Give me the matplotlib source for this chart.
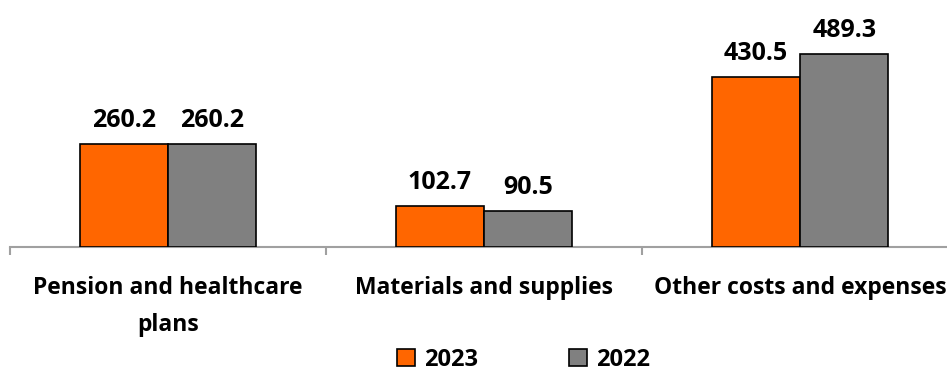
import matplotlib.pyplot as plt
import numpy as np

categories = ['Pension and healthcare\nplans', 'Materials and supplies', 'Other costs and expenses']
vals_2023 = [260.2, 102.7, 430.5]
vals_2022 = [260.2, 90.5, 489.3]
series_names = ['2023', '2022']

plt.rcParams['font.family'] = ['Open Sans', 'DejaVu Sans']
plt.rcParams['font.weight'] = 'bold'

fig = plt.figure(figsize=(9.47, 3.71), dpi=100)
W, H = 947, 371
# axes from x=10 to ~958 px, y from 0 to 247 px (baseline)
ax = fig.add_axes([10 / W, (H - 247) / H, 948 / W, 247 / H])

x = np.arange(len(categories))
w = 0.28
ax.bar(x - w / 2, vals_2023, w, color='#FF6600', edgecolor='black', linewidth=1.2, label=series_names[0], zorder=3)
ax.bar(x + w / 2, vals_2022, w, color='#808080', edgecolor='black', linewidth=1.2, label=series_names[1], zorder=3)

for xi, v in zip(x - w / 2, vals_2023):
    ax.annotate(f'{v:.1f}', (xi, v), xytext=(0, 8), textcoords='offset points',
                ha='center', va='bottom', fontsize=18, fontweight='bold')
for xi, v in zip(x + w / 2, vals_2022):
    ax.annotate(f'{v:.1f}', (xi, v), xytext=(0, 8), textcoords='offset points',
                ha='center', va='bottom', fontsize=18, fontweight='bold')

ax.set_xlim(-0.5, len(categories) - 0.5)
ax.set_ylim(0, 626)
for s in ['top', 'right', 'left']:
    ax.spines[s].set_visible(False)
ax.spines['bottom'].set_color('#a0a0a0')
ax.spines['bottom'].set_linewidth(1.5)
ax.set_yticks([])

ax.set_xticks(np.arange(len(categories) + 1) - 0.5)
ax.set_xticklabels([])
ax.tick_params(axis='x', which='major', length=6, color='#a0a0a0', width=1.5)
ax.set_xticks(x, minor=True)
ax.set_xticklabels(categories, minor=True, fontsize=16.5, fontweight='bold', linespacing=1.7)
ax.tick_params(axis='x', which='minor', length=0, pad=21)

fig.legend(loc='lower center', bbox_to_anchor=(0.553, -0.06), ncol=2, frameon=False,
           handlelength=0.75, handleheight=0.75, columnspacing=3.85,
           handletextpad=0.4, prop={'weight': 'bold', 'size': 17})

fig.savefig('out.png', dpi=100)
